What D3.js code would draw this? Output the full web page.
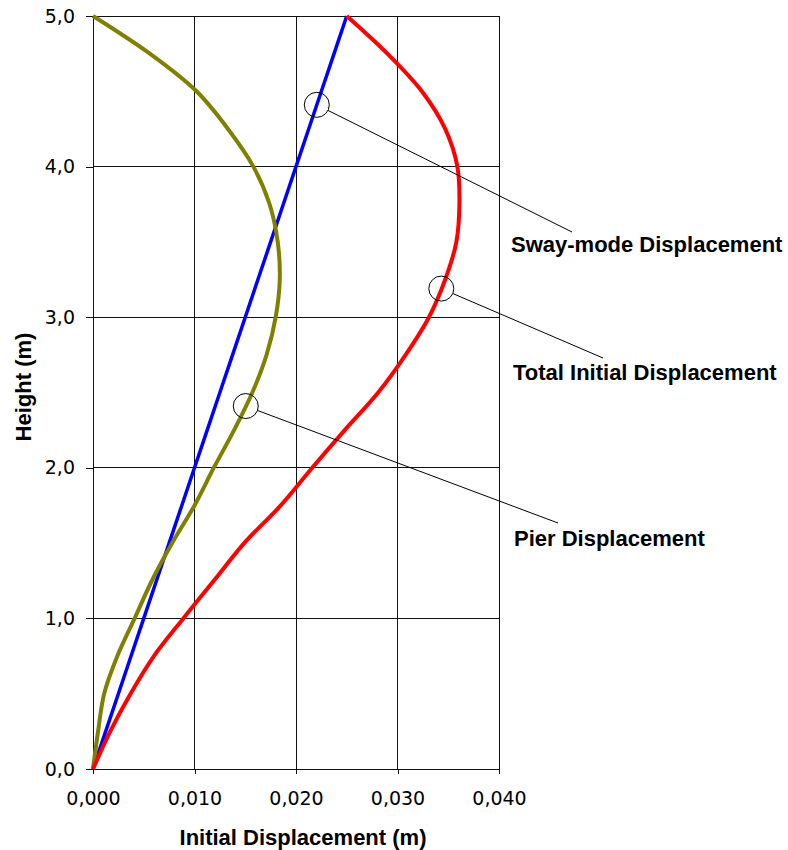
<!DOCTYPE html>
<html>
<head>
<meta charset="utf-8">
<script src="https://cdn.jsdelivr.net/npm/d3@7"></script>
<style>
    body { margin: 0; background: #fff; }
    svg { display: block; }
    .tick-label { font-family: "DejaVu Sans", Verdana, sans-serif; font-size: 19px; fill: #000; }
    .title { font-family: "Liberation Sans", Arial, sans-serif; font-weight: bold; font-size: 22px; fill: #000; }
</style>
</head>
<body>
<div id="chart"></div>
<script>
// Heights (m) at which the displacements were read
const heights = [0, 0.25, 0.5, 0.75, 1.0, 1.25, 1.5, 1.75, 2.0, 2.25, 2.5,
                 2.75, 3.0, 3.25, 3.5, 3.75, 4.0, 4.25, 4.5, 4.75, 5.0];

// Sway-mode displacement (m) - straight line
const swayDisp = [0, 0.00125, 0.0025, 0.00375, 0.005, 0.00625, 0.0075, 0.00875, 0.010, 0.01125, 0.0125,
                  0.01375, 0.015, 0.01625, 0.0175, 0.01875, 0.020, 0.02125, 0.0225, 0.02375, 0.025];

// Pier displacement (m)
const pierDisp = [0, 0.0005, 0.0011, 0.0024, 0.0041, 0.0058, 0.0078, 0.0100, 0.0119, 0.0139, 0.0157,
                  0.0171, 0.0180, 0.0184, 0.0182, 0.0174, 0.0158, 0.0133, 0.0102, 0.0056, 0];

// Total initial displacement (m)
const totalDisp = [0, 0.0017, 0.0037, 0.0060, 0.0089, 0.0119, 0.0149, 0.0185, 0.0216, 0.0248, 0.0281,
                   0.0308, 0.0331, 0.0347, 0.0358, 0.0361, 0.0359, 0.0347, 0.0324, 0.0290, 0.025];

const xTicks = [0, 0.01, 0.02, 0.03, 0.04];
const yTicks = [0, 1, 2, 3, 4, 5];

// Callouts: label text and the height where the circle sits on its curve
const calloutNames = ['Sway-mode Displacement', 'Total Initial Displacement', 'Pier Displacement'];
const calloutHeights = [4.41, 3.19, 2.41];

const W = 788, H = 850;
const plot = { left: 93, right: 499, top: 16, bottom: 769 };

const svg = d3.select('#chart').append('svg')
    .attr('width', W)
    .attr('height', H);

const x = d3.scaleLinear().domain([0, 0.04]).range([plot.left, plot.right]);
const y = d3.scaleLinear().domain([0, 5]).range([plot.bottom, plot.top]);

const locale = d3.formatLocale({ decimal: ',', thousands: '.', grouping: [3], currency: ['', ''] });

// Grid
const grid = svg.append('g').attr('stroke', '#111').attr('stroke-width', 1).attr('shape-rendering', 'crispEdges');
xTicks.forEach(t => {
    grid.append('line').attr('x1', x(t)).attr('x2', x(t)).attr('y1', plot.top).attr('y2', plot.bottom);
});
yTicks.forEach(t => {
    grid.append('line').attr('x1', plot.left).attr('x2', plot.right).attr('y1', y(t)).attr('y2', y(t));
});

// Axes
const xAxis = svg.append('g')
    .attr('transform', `translate(0,${plot.bottom})`)
    .call(d3.axisBottom(x).tickValues(xTicks).tickSize(5).tickPadding(18).tickFormat(locale.format('.3f')));
const yAxis = svg.append('g')
    .attr('transform', `translate(${plot.left},0)`)
    .call(d3.axisLeft(y).tickValues(yTicks).tickSize(7).tickPadding(11).tickFormat(locale.format('.1f')));

[xAxis, yAxis].forEach(ax => {
    ax.select('.domain').remove();
    ax.selectAll('.tick line').attr('stroke', '#111').attr('shape-rendering', 'crispEdges');
    ax.selectAll('.tick text').attr('class', 'tick-label').attr('font-size', null).attr('font-family', null);
});

// Axis titles
svg.append('text')
    .attr('class', 'title')
    .attr('x', 303)
    .attr('y', 845)
    .attr('text-anchor', 'middle')
    .text('Initial Displacement (m)');

svg.append('text')
    .attr('class', 'title')
    .attr('transform', 'translate(31,387) rotate(-90)')
    .attr('text-anchor', 'middle')
    .text('Height (m)');

// Curves
const series = [
    { name: 'sway', values: swayDisp, color: '#0000ff', width: 3.5, curve: d3.curveLinear },
    { name: 'pier', values: pierDisp, color: '#808000', width: 4, curve: d3.curveCatmullRom.alpha(0.5) },
    { name: 'total', values: totalDisp, color: '#ff0000', width: 4, curve: d3.curveCatmullRom.alpha(0.5) }
];

series.forEach(s => {
    const pts = heights.map((h, i) => [s.values[i], h]);
    const line = d3.line()
        .x(d => x(d[0]))
        .y(d => y(d[1]))
        .curve(s.curve);
    svg.append('path')
        .attr('d', line(pts))
        .attr('fill', 'none')
        .attr('stroke', s.color)
        .attr('stroke-width', s.width)
        .attr('stroke-linejoin', 'round');
});

// Callouts
const calloutSeries = [swayDisp, totalDisp, pierDisp];
const labelPos = [
    { lx: 511, ly: 252, ex: 572, ey: 232 },
    { lx: 513, ly: 380, ex: 603, ey: 358 },
    { lx: 514, ly: 546, ex: 558, ey: 523 }
];
const r = 12.5;

calloutNames.forEach((name, i) => {
    const h = calloutHeights[i];
    // read the curve's displacement at that height
    const v = d3.scaleLinear().domain(heights).range(calloutSeries[i])(h);
    const cx = x(v), cy = y(h);
    const p = labelPos[i];
    const dx = p.ex - cx, dy = p.ey - cy;
    const len = Math.hypot(dx, dy);

    svg.append('circle')
        .attr('cx', cx).attr('cy', cy).attr('r', r)
        .attr('fill', 'none')
        .attr('stroke', '#000')
        .attr('stroke-width', 1);

    svg.append('line')
        .attr('x1', cx + dx / len * r)
        .attr('y1', cy + dy / len * r)
        .attr('x2', p.ex)
        .attr('y2', p.ey)
        .attr('stroke', '#000')
        .attr('stroke-width', 1);

    svg.append('text')
        .attr('class', 'title')
        .attr('x', p.lx)
        .attr('y', p.ly)
        .text(name);
});
</script>
</body>
</html>
